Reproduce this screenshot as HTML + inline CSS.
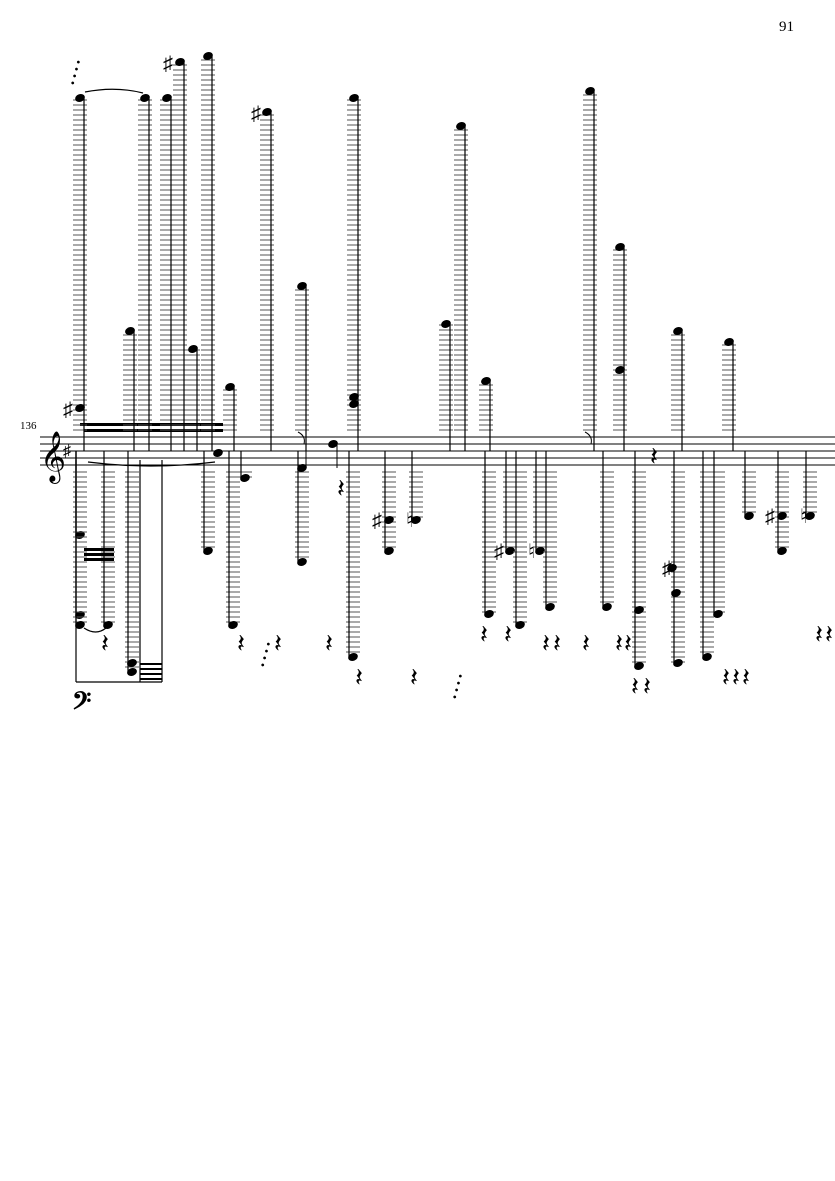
<!DOCTYPE html>
<html><head><meta charset="utf-8"><style>
html,body{margin:0;padding:0;background:#fff;}
svg{display:block;}
text{font-family:"Liberation Serif",serif;}
</style></head><body>
<svg id="s" width="835" height="1181" viewBox="0 0 835 1181" xmlns="http://www.w3.org/2000/svg">
<text x="779" y="31" font-size="15">91</text>
<text x="20" y="429" font-size="11">136</text>
<g stroke="#000" stroke-width="1">
<line x1="40" y1="437" x2="835" y2="437"/><line x1="40" y1="444" x2="835" y2="444"/>
<line x1="40" y1="451" x2="835" y2="451"/><line x1="40" y1="458" x2="835" y2="458"/>
<line x1="40" y1="465" x2="835" y2="465"/>
</g>
<text x="40" y="471" font-size="44">𝄞</text>
<text x="63" y="456" font-size="16">♯</text>
<rect x="80" y="423" width="143" height="3"/>
<rect x="84" y="429" width="139" height="3"/>
<rect x="84" y="548" width="30" height="3"/><rect x="84" y="553" width="30" height="3"/><rect x="84" y="558" width="30" height="3"/>
<rect x="140" y="663" width="22" height="2"/><rect x="140" y="668" width="22" height="2"/><rect x="140" y="673" width="22" height="2"/><rect x="140" y="678" width="22" height="2"/>
<g stroke="#000" stroke-width="1.2" fill="none">
<line x1="76" y1="460" x2="76" y2="682"/><line x1="76" y1="682" x2="162" y2="682"/>
<line x1="162" y1="460" x2="162" y2="682"/><line x1="140" y1="460" x2="140" y2="682"/>
<path d="M85 92 Q115 86 143 93"/><path d="M88 462 Q150 470 215 462"/>
<path d="M84 628 Q96 636 106 628"/>
</g>
<text x="72" y="714" font-size="30" font-weight="bold">𝄢</text>
<g id="g"></g>
</svg>
<script>
var g=document.getElementById('g'),h='';
function L(x1,y1,x2,y2,w,c){h+='<line x1="'+x1+'" y1="'+y1+'" x2="'+x2+'" y2="'+y2+'" stroke="'+(c||'#000')+'" stroke-width="'+(w||1)+'"/>';}
function head(x,y){h+='<ellipse cx="'+x+'" cy="'+y+'" rx="5" ry="3.8" transform="rotate(-20 '+x+' '+y+')"/>';}
function up(x,y){
 for(var yy=430;yy>y;yy-=5)L(x-7,yy,x+7,yy,1,'#555');
 head(x,y);L(x+4,y,x+4,451,1.2);}
function dn(x,y){
 for(var yy=472;yy<y;yy+=5)L(x-7,yy,x+7,yy,1,'#555');
 head(x,y);L(x-4,y,x-4,451,1.2);}
[[80,98],[130,331],[145,98],[167,98],[180,62],[193,349],[208,56],[230,387],[267,112],[302,286],[354,98],[446,324],[461,126],[486,381],[590,91],[620,247],[678,331],[729,342]].forEach(function(p){up(p[0],p[1]);});
[[80,535],[80,615],[80,625],[108,625],[132,672],[208,551],[233,625],[245,478],[302,562],[353,657],[389,551],[416,520],[489,614],[510,551],[520,625],[540,551],[550,607],[607,607],[639,666],[678,663],[707,657],[718,614],[749,516],[782,551],[810,516]].forEach(function(p){dn(p[0],p[1]);});
[[80,408],[132,663],[218,453],[354,397],[354,404],[620,370],[639,610],[676,593],[672,568],[389,520],[782,516],[302,468],[333,444]].forEach(function(p){head(p[0],p[1]);});
L(337,444,337,468);L(306,468,306,440);
var acc=[[63,416,'♯'],[163,70,'♯'],[251,120,'♯'],[372,527,'♯'],[406,527,'♮'],[494,558,'♯'],[528,558,'♮'],[662,575,'♯'],[765,523,'♯'],[800,523,'♮']];
acc.forEach(function(a){h+='<text x="'+a[0]+'" y="'+a[1]+'" font-size="20">'+a[2]+'</text>';});
var r=[[101,652],[237,652],[274,652],[325,652],[337,497],[355,686],[410,686],[480,643],[504,643],[542,652],[553,652],[582,652],[615,652],[624,652],[631,695],[643,695],[650,465],[722,686],[732,686],[742,686],[815,643],[825,643]];
r.forEach(function(a){h+='<text x="'+a[0]+'" y="'+a[1]+'" font-size="26">𝄽</text>';});
h+='<text x="266" y="668" font-size="12" transform="rotate(-75 266 668)">• • • •</text>';
h+='<text x="458" y="700" font-size="12" transform="rotate(-75 458 700)">• • • •</text>';
h+='<text x="76" y="86" font-size="12" transform="rotate(-75 76 86)">• • • •</text>';
h+='<path d="M585 432 q8 4 6 12" stroke="#000" fill="none"/><path d="M298 432 q8 4 6 12" stroke="#000" fill="none"/>';
g.innerHTML=h;
</script>
</body></html>
